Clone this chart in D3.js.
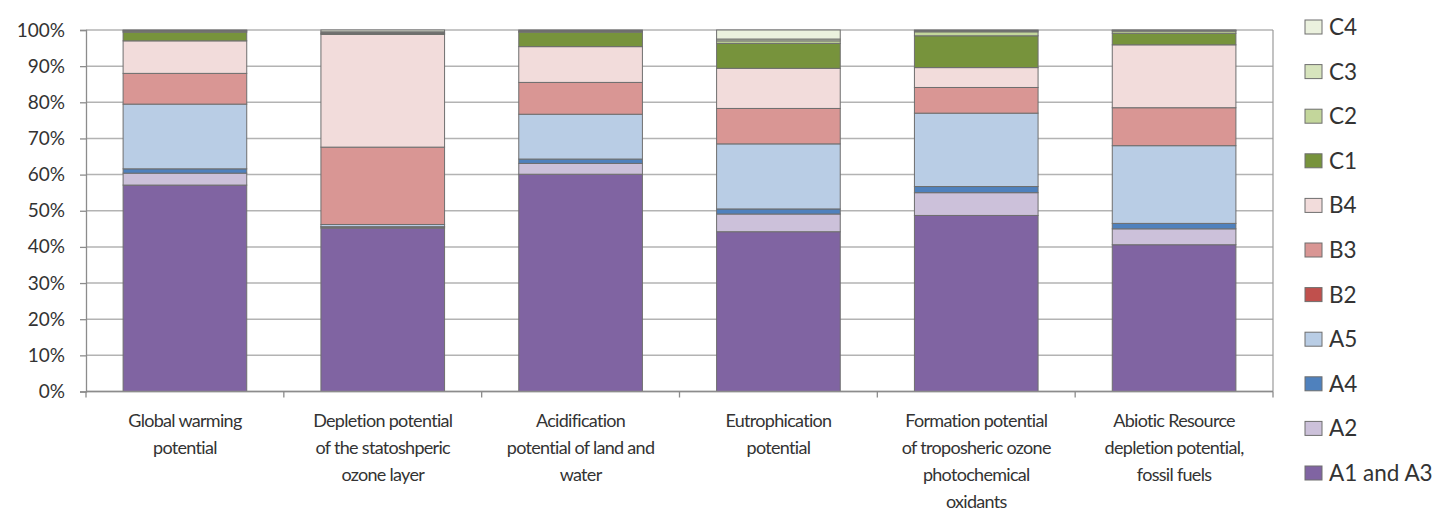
<!DOCTYPE html>
<html>
<head>
<meta charset="utf-8">
<script src="https://cdn.jsdelivr.net/npm/d3@7"></script>
<style>
  body { margin: 0; background: #fff; }
  svg text { font-family: Lato, "Open Sans", sans-serif; fill: #333; }
</style>
</head>
<body>
<svg id="chart" width="1443" height="513"></svg>
<script>
// categories (impact indicators), each label split into lines
const categories = [
  "Global warming potential",
  "Depletion potential of the statoshperic ozone layer",
  "Acidification potential of land and water",
  "Eutrophication potential",
  "Formation potential of troposheric ozone photochemical oxidants",
  "Abiotic Resource depletion potential, fossil fuels"
];
const categoryLines = [
  ["Global warming", "potential"],
  ["Depletion potential", "of the statoshperic", "ozone layer"],
  ["Acidification", "potential of land and", "water"],
  ["Eutrophication", "potential"],
  ["Formation potential", "of troposheric ozone", "photochemical", "oxidants"],
  ["Abiotic Resource", "depletion potential,", "fossil fuels"]
];

// stages, bottom to top
const stages = ["A1 and A3", "A2", "A4", "A5", "B2", "B3", "B4", "C1", "C2", "C3", "C4"];
const stageColors = ["#8064A2", "#CCC1DA", "#4F81BD", "#B9CDE5", "#C0504D", "#D99694",
                     "#F2DCDB", "#77933C", "#C3D69B", "#D7E4BD", "#EBF1DE"];

// share (%) of each stage per category, same order as categories
const a1a3 = [57.1, 45.2, 60.1, 44.2, 48.7, 40.6];
const a2   = [3.3, 0.3, 3.0, 4.9, 6.3, 4.4];
const a4   = [1.2, 0.1, 1.2, 1.4, 1.7, 1.5];
const a5   = [17.9, 0.6, 12.4, 18.0, 20.3, 21.5];
const b2   = [0, 0, 0, 0, 0, 0];
const b3   = [8.5, 21.4, 8.8, 9.8, 7.1, 10.5];
const b4   = [9.0, 31.2, 9.9, 11.1, 5.5, 17.4];
const c1   = [2.4, 0.2, 4.0, 6.9, 8.8, 3.2];
const c2   = [0.3, 0.2, 0.2, 0.7, 1.1, 0.6];
const c3   = [0.1, 0.3, 0.2, 0.5, 0.3, 0.2];
const c4   = [0.2, 0.5, 0.2, 2.5, 0.2, 0.1];
const seriesValues = [a1a3, a2, a4, a5, b2, b3, b4, c1, c2, c3, c4];

const yTicks = [0, 10, 20, 30, 40, 50, 60, 70, 80, 90, 100];

// build a table for d3.stack
const table = categories.map((c, i) => {
  const row = { category: c };
  stages.forEach((s, j) => { row[s] = seriesValues[j][i]; });
  return row;
});

const margin = { left: 86, top: 30, right: 170, bottom: 122 };
const width = 1273 - margin.left;
const height = 391.5 - margin.top;

const svg = d3.select("#chart")
  .append("g")
  .attr("transform", `translate(${margin.left}, ${margin.top})`);

const x = d3.scaleBand()
  .domain(categories)
  .range([0, width])
  .paddingInner(0.375)
  .paddingOuter(0.1875);

const y = d3.scaleLinear().domain([0, 100]).range([height, 0]);

const color = d3.scaleOrdinal().domain(stages).range(stageColors);

// gridlines
svg.append("g")
  .selectAll("line")
  .data(yTicks)
  .join("line")
  .attr("x1", 0)
  .attr("x2", width)
  .attr("y1", d => y(d))
  .attr("y2", d => y(d))
  .style("stroke", "#b3b3b3")
  .style("stroke-width", 1.5);

// right edge of plot area
svg.append("line")
  .attr("x1", width).attr("x2", width)
  .attr("y1", 0).attr("y2", height)
  .style("stroke", "#9a9a9a")
  .style("stroke-width", 1.2);

// stacked bars
const stacked = d3.stack().keys(stages)(table);

svg.append("g")
  .selectAll("g")
  .data(stacked)
  .join("g")
  .attr("fill", d => color(d.key))
  .selectAll("rect")
  .data(d => d.filter(p => p[1] - p[0] > 0))
  .join("rect")
  .attr("x", d => x(d.data.category))
  .attr("width", x.bandwidth())
  .attr("y", d => y(d[1]))
  .attr("height", d => y(d[0]) - y(d[1]))
  .style("stroke", "#6e6e6e")
  .style("stroke-width", 1);

// y axis
const yAxis = svg.append("g")
  .call(d3.axisLeft(y).tickValues(yTicks).tickFormat(d => d + "%").tickSize(6).tickPadding(15));
yAxis.select(".domain").style("stroke", "#8c8c8c").style("stroke-width", 1.3);
yAxis.selectAll(".tick line").style("stroke", "#8c8c8c").style("stroke-width", 1.3);
yAxis.selectAll("text").style("font-size", "19px").style("fill", "#333");

// x axis: line along bottom with tick marks at category boundaries
const step = x.step();
const xg = svg.append("g").attr("transform", `translate(0, ${height})`);
xg.append("line")
  .attr("x1", 0).attr("x2", width)
  .style("stroke", "#8c8c8c").style("stroke-width", 1.3);
xg.selectAll(".bound")
  .data(d3.range(categories.length + 1))
  .join("line")
  .attr("class", "bound")
  .attr("x1", i => i * step).attr("x2", i => i * step)
  .attr("y1", 0).attr("y2", 6)
  .style("stroke", "#8c8c8c").style("stroke-width", 1.3);

// category labels
categories.forEach((c, i) => {
  const cx = x(c) + x.bandwidth() / 2;
  const t = xg.append("text")
    .attr("text-anchor", "middle")
    .style("font-size", "18px")
    .style("letter-spacing", "-0.7px");
  categoryLines[i].forEach((line, k) => {
    t.append("tspan")
      .attr("x", cx)
      .attr("y", 35.5 + k * 27)
      .text(line);
  });
});

// legend, top to bottom C4 ... A1 and A3
const legendItems = stages.slice().reverse();
const legend = d3.select("#chart").append("g")
  .attr("transform", "translate(1305, 27)");
const li = legend.selectAll("g")
  .data(legendItems)
  .join("g")
  .attr("transform", (d, i) => `translate(0, ${i * 44.6})`);
li.append("rect")
  .attr("x", 0).attr("y", -7)
  .attr("width", 17).attr("height", 14)
  .attr("fill", d => color(d))
  .style("stroke", "#6e6e6e")
  .style("stroke-width", 1);
li.append("text")
  .attr("x", 24)
  .attr("y", 8)
  .style("font-size", "22.5px")
  .text(d => d);
</script>
</body>
</html>
